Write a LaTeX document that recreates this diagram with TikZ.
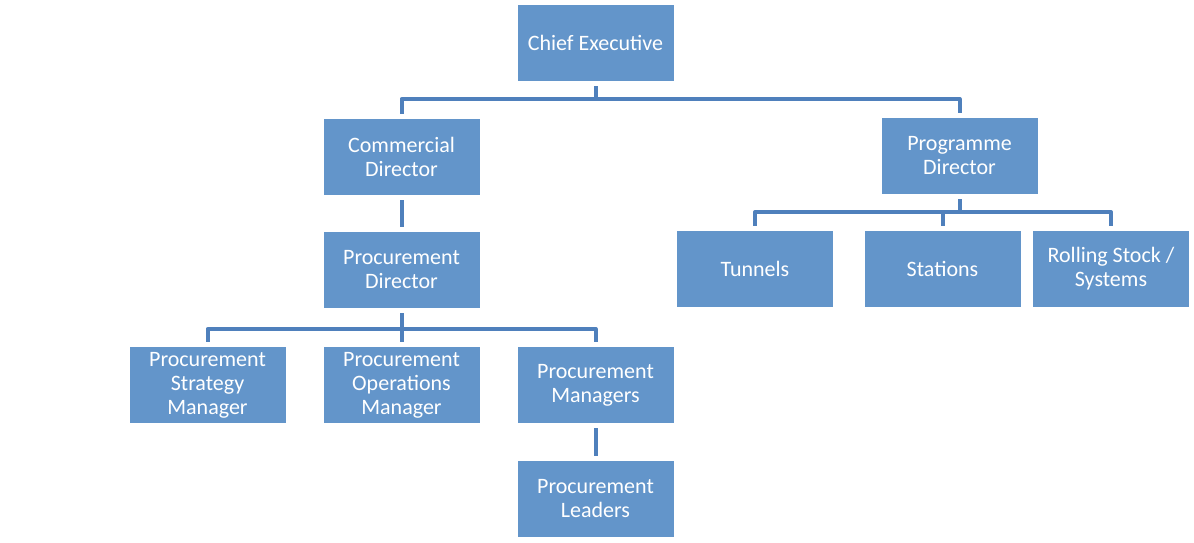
\documentclass[tikz,border=0pt]{standalone}
\usepackage{fontspec}
\setmainfont{Carlito}
\definecolor{boxfill}{RGB}{99,149,202}
\definecolor{linec}{RGB}{79,128,188}
\tikzset{
  orgbox/.style={fill=boxfill, draw=none, minimum width=156pt, minimum height=76pt,
    inner sep=0pt, align=center, text=white,
    font=\fontsize{22pt}{24pt}\selectfont},
  conn/.style={draw=linec, line width=4pt, line join=round, shorten <=5pt, shorten >=5pt}
}
\begin{document}
\begin{tikzpicture}[x=1pt,y=-1pt]
\fill[white] (0,0) rectangle (1194,542);
\useasboundingbox (0,0) rectangle (1194,542);
% boxes
\node[orgbox] (ce) at (595.5,43) {Chief Executive};
\node[orgbox] (cd) at (401.5,157) {Commercial\\Director};
\node[orgbox] (pgd) at (959.5,156) {Programme\\Director};
\node[orgbox] (pd) at (401.5,270) {Procurement\\Director};
\node[orgbox] (tun) at (755,269) {Tunnels};
\node[orgbox] (sta) at (942.5,269) {Stations};
\node[orgbox] (rs) at (1111,269) {Rolling Stock /\\Systems};
\node[orgbox] (psm) at (207.5,385) {Procurement\\Strategy\\Manager};
\node[orgbox] (pom) at (401.5,385) {Procurement\\Operations\\Manager};
\node[orgbox] (pm) at (595.5,385) {Procurement\\Managers};
\node[orgbox] (pl) at (595.5,499) {Procurement\\Leaders};
% bus coordinates
\coordinate (b1) at (595.5,99);
\coordinate (b2) at (959.5,212);
\coordinate (b3) at (401.5,329);
% connectors
\draw[conn] (ce.south) -- (ce.south |- b1) -| (cd.north);
\draw[conn] (ce.south) -- (ce.south |- b1) -| (pgd.north);
\draw[conn] (cd.south) -- (pd.north);
\draw[conn] (pgd.south) -- (pgd.south |- b2) -| (tun.north);
\draw[conn] (pgd.south) -- (pgd.south |- b2) -| (sta.north);
\draw[conn] (pgd.south) -- (pgd.south |- b2) -| (rs.north);
\draw[conn] (pd.south) -- (pd.south |- b3) -| (psm.north);
\draw[conn] (pd.south) -- (pd.south |- b3) -| (pom.north);
\draw[conn] (pd.south) -- (pd.south |- b3) -| (pm.north);
\draw[conn] (pm.south) -- (pl.north);
\end{tikzpicture}
\end{document}
